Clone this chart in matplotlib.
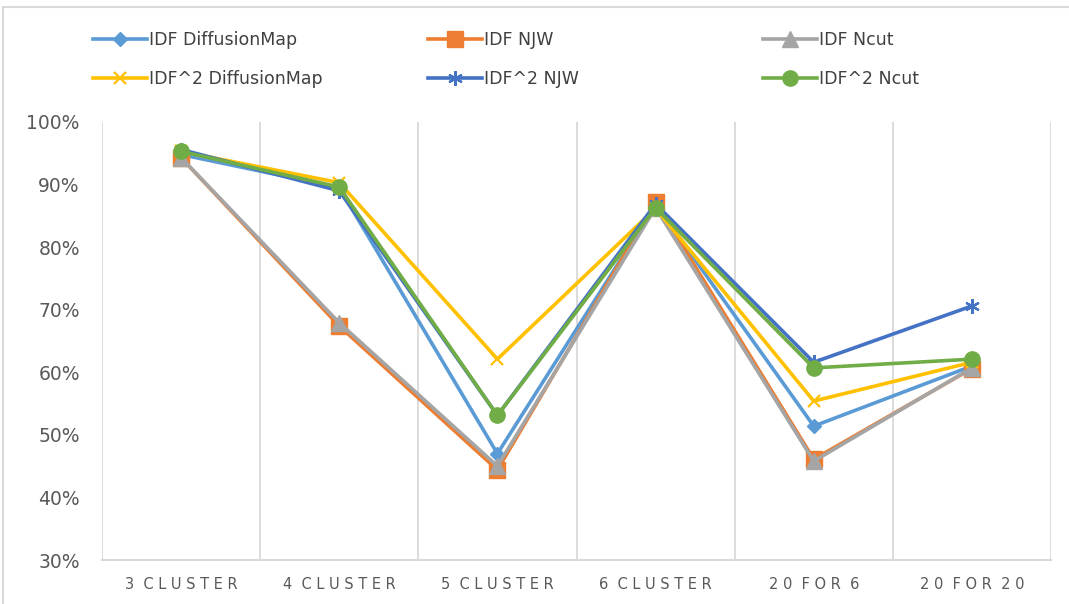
import matplotlib
matplotlib.use("Agg")
import matplotlib.pyplot as plt
from matplotlib.patches import Rectangle

categories = ["3 CLUSTER", "4 CLUSTER", "5 CLUSTER", "6 CLUSTER", "20 FOR 6", "20 FOR 20"]

idf_diffusionmap = [0.948, 0.895, 0.470, 0.868, 0.514, 0.610]
idf_njw = [0.943, 0.674, 0.444, 0.872, 0.461, 0.606]
idf_ncut = [0.943, 0.679, 0.450, 0.863, 0.458, 0.607]
idf2_diffusionmap = [0.953, 0.903, 0.621, 0.862, 0.554, 0.616]
idf2_njw = [0.956, 0.890, 0.531, 0.869, 0.616, 0.706]
idf2_ncut = [0.953, 0.896, 0.531, 0.863, 0.607, 0.621]

y_ticks = [0.3, 0.4, 0.5, 0.6, 0.7, 0.8, 0.9, 1.0]

series = [
    ("IDF DiffusionMap", idf_diffusionmap, "#5B9BD5", dict(marker="D", markersize=7.5)),
    ("IDF NJW", idf_njw, "#ED7D31", dict(marker="s", markersize=11)),
    ("IDF Ncut", idf_ncut, "#A5A5A5", dict(marker="^", markersize=11)),
    ("IDF^2 DiffusionMap", idf2_diffusionmap, "#FFC000", dict(marker="x", markersize=9, markeredgewidth=1.6)),
    ("IDF^2 NJW", idf2_njw, "#4472C4", dict(marker=(6, 2, 0), markersize=10.5, markeredgewidth=1.6)),
    ("IDF^2 Ncut", idf2_ncut, "#70AD47", dict(marker="o", markersize=11)),
]

plt.rcParams["font.family"] = ["DejaVu Sans"]

W, H = 1069, 604
fig = plt.figure(figsize=(W / 100, H / 100), dpi=100)
fig.patch.set_facecolor("white")

# thin grey frame around the whole chart
fig.add_artist(Rectangle((3 / W, -0.01), 1.02, 1 - 7 / H + 0.01, transform=fig.transFigure,
                         fill=False, edgecolor="#D9D9D9", linewidth=1.5))

ax = fig.add_axes([102 / W, 1 - 560 / H, (1051 - 102) / W, (560 - 122) / H])
x = list(range(len(categories)))

for b in [i - 0.5 for i in range(len(categories) + 1)]:
    ax.axvline(b, color="#D9D9D9", linewidth=1.3, zorder=0)

handles = []
for label, vals, color, mk in series:
    (ln,) = ax.plot(x, vals, color=color, linewidth=2.6, label=label,
                    markerfacecolor=color, markeredgecolor=color,
                    solid_joinstyle="round", **mk)
    handles.append(ln)

ax.set_xlim(-0.5, len(categories) - 0.5)
ax.set_ylim(0.3, 1.0)
ax.set_yticks(y_ticks)
ax.set_yticklabels([f"{int(round(v * 100))}%" for v in y_ticks])
ax.set_xticks(x)
# letter-spaced category labels
ax.set_xticklabels([" ".join(c).replace("   ", "  ") for c in categories])

for s in ["top", "left", "right"]:
    ax.spines[s].set_visible(False)
ax.spines["bottom"].set_color("#D9D9D9")
ax.spines["bottom"].set_linewidth(1.5)

ax.tick_params(axis="y", length=0, pad=16, labelsize=13.5, labelcolor="#595959")
ax.tick_params(axis="x", length=0, pad=12, labelsize=10.5, labelcolor="#595959")

# legend: three columns, two rows
col_x = [93 / W, 428 / W, 763 / W]
for ci, cx in enumerate(col_x):
    hs = [handles[ci], handles[ci + 3]]
    leg = fig.legend(hs, [h.get_label() for h in hs], loc="upper left",
                     bbox_to_anchor=(cx, 1 - 31 / H), frameon=False,
                     fontsize=12.5, handlelength=3.1, handletextpad=0.15,
                     labelspacing=1.2, borderpad=0, borderaxespad=0)
    for t in leg.get_texts():
        t.set_color("#404040")

fig.savefig("out.png", dpi=100)
